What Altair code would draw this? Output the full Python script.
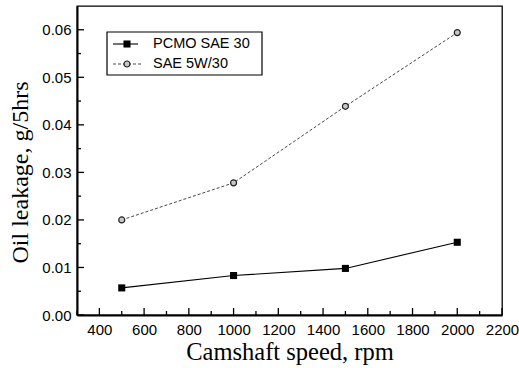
import altair as alt
import pandas as pd

speed = [500, 1000, 1500, 2000]
pcmo = [0.0057, 0.0083, 0.0098, 0.0153]
sae = [0.0200, 0.0278, 0.0439, 0.0594]
series_names = ["PCMO SAE 30", "SAE 5W/30"]

x_major = [400, 600, 800, 1000, 1200, 1400, 1600, 1800, 2000, 2200]
x_minor = [300, 500, 700, 900, 1100, 1300, 1500, 1700, 1900, 2100]
y_major = [0.00, 0.01, 0.02, 0.03, 0.04, 0.05, 0.06]
y_minor = [0.005, 0.015, 0.025, 0.035, 0.045, 0.055]

W, H = 425, 309

df = pd.DataFrame({
    "speed": speed * 2,
    "leak": pcmo + sae,
    "series": [series_names[0]] * 4 + [series_names[1]] * 4,
})

xs = alt.Scale(domain=[300, 2200], nice=False, zero=False)
ys = alt.Scale(domain=[0, 0.065], nice=False)

SANS = "Liberation Sans"
SERIF = "Liberation Serif"

base = alt.Chart(df)

x_enc = alt.X("speed:Q", scale=xs, axis=alt.Axis(
    values=x_major, format="d", ticks=False, grid=False, domainWidth=2, domainColor="black",
    labelFont=SANS, labelFontSize=15, labelColor="black", labelPadding=7,
    title="Camshaft speed, rpm", titleFont=SERIF, titleFontSize=24.5,
    titleFontWeight="normal", titleColor="black", titlePadding=3, labelFlush=False))
y_enc = alt.Y("leak:Q", scale=ys, axis=alt.Axis(
    values=y_major, format=".2f", ticks=False, grid=False, domainWidth=2, domainColor="black",
    labelFont=SANS, labelFontSize=15, labelColor="black", labelPadding=6,
    title="Oil leakage, g/5hrs", titleFont=SERIF, titleFontSize=24,
    titleFontWeight="normal", titleColor="black", titlePadding=9, titleY=166,
    labelFlush=False))

line_pcmo = base.transform_filter(alt.datum.series == series_names[0]).mark_line(
    color="black", strokeWidth=1.1).encode(x=x_enc, y=y_enc)
pts_pcmo = base.transform_filter(alt.datum.series == series_names[0]).mark_point(
    shape="square", filled=True, color="black", size=50, opacity=1).encode(x="speed:Q", y="leak:Q")
line_sae = base.transform_filter(alt.datum.series == series_names[1]).mark_line(
    color="#333333", strokeWidth=0.9, strokeDash=[3, 2]).encode(x="speed:Q", y="leak:Q")
pts_sae = base.transform_filter(alt.datum.series == series_names[1]).mark_point(
    shape="circle", filled=True, fill="#c8c8c8", stroke="#222222", strokeWidth=1.2,
    size=36, opacity=1).encode(x="speed:Q", y="leak:Q")

xt_major = alt.Chart(pd.DataFrame({"v": x_major})).mark_rule(color="black", strokeWidth=1.3).encode(
    x=alt.X("v:Q", scale=xs), y=alt.value(H), y2=alt.value(H - 7))
xt_minor = alt.Chart(pd.DataFrame({"v": x_minor})).mark_rule(color="black", strokeWidth=1.3).encode(
    x=alt.X("v:Q", scale=xs), y=alt.value(H), y2=alt.value(H - 4))
yt_major = alt.Chart(pd.DataFrame({"v": y_major})).mark_rule(color="black", strokeWidth=1.3).encode(
    y=alt.Y("v:Q", scale=ys), x=alt.value(0), x2=alt.value(7))
yt_minor = alt.Chart(pd.DataFrame({"v": y_minor})).mark_rule(color="black", strokeWidth=1.3).encode(
    y=alt.Y("v:Q", scale=ys), x=alt.value(0), x2=alt.value(4))

one = pd.DataFrame({"a": [0]})
leg_box = alt.Chart(one).mark_rect(fill="white", stroke="black", strokeWidth=1.2).encode(
    x=alt.value(30), x2=alt.value(185), y=alt.value(26), y2=alt.value(69))
leg_l1 = alt.Chart(one).mark_rule(color="black", strokeWidth=1.1).encode(
    x=alt.value(36), x2=alt.value(61), y=alt.value(38))
leg_p1 = alt.Chart(one).mark_point(shape="square", filled=True, color="black", size=50, opacity=1).encode(
    x=alt.value(50), y=alt.value(38))
leg_t1 = alt.Chart(one).mark_text(align="left", baseline="middle", font=SANS, fontSize=14.5, color="black").encode(
    x=alt.value(76), y=alt.value(38), text=alt.value(series_names[0]))
leg_l2 = alt.Chart(one).mark_rule(color="#333333", strokeWidth=0.9, strokeDash=[3, 2]).encode(
    x=alt.value(36), x2=alt.value(64), y=alt.value(58))
leg_p2 = alt.Chart(one).mark_point(shape="circle", filled=True, fill="#c8c8c8", stroke="#222222",
                                   strokeWidth=1.2, size=36, opacity=1).encode(x=alt.value(50), y=alt.value(58))
leg_t2 = alt.Chart(one).mark_text(align="left", baseline="middle", font=SANS, fontSize=14.5, color="black").encode(
    x=alt.value(76), y=alt.value(58), text=alt.value(series_names[1]))

chart = alt.layer(
    line_pcmo, line_sae, pts_pcmo, pts_sae,
    xt_major, xt_minor, yt_major, yt_minor,
    leg_box, leg_l1, leg_p1, leg_t1, leg_l2, leg_p2, leg_t2,
).properties(
    width=W, height=H,
    autosize=alt.AutoSizeParams(type="none"),
    padding={"left": 77, "top": 6, "right": 17, "bottom": 53},
    background="white",
).configure_view(stroke="black", strokeWidth=1.3)

chart.save("out.html", embed_options={"renderer": "svg", "actions": False})
